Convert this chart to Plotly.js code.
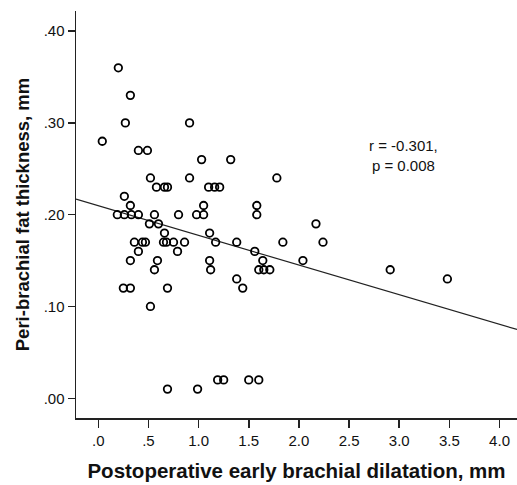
<!DOCTYPE html>
<html><head><meta charset="utf-8">
<script src="https://cdn.plot.ly/plotly-3.0.1.min.js"></script>
<style>html,body{margin:0;padding:0;background:#fff;}#chart{width:517px;height:485px;}</style>
</head><body><div id="chart"></div>
<script>
// Postoperative early brachial dilatation (mm)
const dilatation = [
  0.20, 0.32, 0.27, 0.04, 0.40, 0.49, 0.91, 1.03, 1.32,
  0.52, 0.91, 1.78,
  0.58, 0.66, 0.69, 1.10, 1.16, 1.21,
  0.26, 0.32, 1.05, 1.58,
  0.19, 0.26, 0.33, 0.40, 0.56, 0.80, 0.98, 1.05, 1.58,
  0.51, 0.60, 2.17,
  0.66, 1.11,
  0.36, 0.44, 0.47, 0.65, 0.68, 0.75, 0.86, 1.17, 1.38, 1.84, 2.24,
  0.40, 0.79, 1.56,
  0.32, 0.59, 1.11, 1.64, 2.04,
  0.56, 1.12, 1.60, 1.65, 1.71, 2.91,
  1.38, 3.48,
  0.25, 0.32, 0.69, 1.44,
  0.52,
  1.19, 1.25, 1.50, 1.60,
  0.69, 0.99
];
// Peri-brachial fat thickness (mm)
const thickness = [
  0.36, 0.33, 0.30, 0.28, 0.27, 0.27, 0.30, 0.26, 0.26,
  0.24, 0.24, 0.24,
  0.23, 0.23, 0.23, 0.23, 0.23, 0.23,
  0.22, 0.21, 0.21, 0.21,
  0.20, 0.20, 0.20, 0.20, 0.20, 0.20, 0.20, 0.20, 0.20,
  0.19, 0.19, 0.19,
  0.18, 0.18,
  0.17, 0.17, 0.17, 0.17, 0.17, 0.17, 0.17, 0.17, 0.17, 0.17, 0.17,
  0.16, 0.16, 0.16,
  0.15, 0.15, 0.15, 0.15, 0.15,
  0.14, 0.14, 0.14, 0.14, 0.14, 0.14,
  0.13, 0.13,
  0.12, 0.12, 0.12, 0.12,
  0.10,
  0.02, 0.02, 0.02, 0.02,
  0.01, 0.01
];
const xTickVals = [0, 0.5, 1.0, 1.5, 2.0, 2.5, 3.0, 3.5, 4.0];
const xTickText = ['.0', '.5', '1.0', '1.5', '2.0', '2.5', '3.0', '3.5', '4.0'];
const yTickVals = [0, 0.1, 0.2, 0.3, 0.4];
const yTickText = ['.00', '.10', '.20', '.30', '.40'];
const statsText = ['r = -0.301,', 'p = 0.008'];

// least-squares fit line from the data
const n = dilatation.length;
const mx = dilatation.reduce((a, b) => a + b, 0) / n;
const my = thickness.reduce((a, b) => a + b, 0) / n;
let sxy = 0, sxx = 0;
for (let i = 0; i < n; i++) { sxy += (dilatation[i] - mx) * (thickness[i] - my); sxx += (dilatation[i] - mx) ** 2; }
const slope = sxy / sxx, intercept = my - slope * mx;
const xRange = [-0.222, 4.174];
const fitX = xRange.slice();
const fitY = fitX.map(v => intercept + slope * v);

const font = 'Arial, "Liberation Sans", sans-serif';
const traces = [
  { x: fitX, y: fitY, mode: 'lines', line: { color: '#222', width: 1.2 }, hoverinfo: 'skip', cliponaxis: true },
  { x: dilatation, y: thickness, mode: 'markers', type: 'scatter',
    marker: { symbol: 'circle-open', size: 7.5, color: '#000', line: { width: 1.8, color: '#000' } } }
];
const layout = {
  width: 517, height: 485,
  margin: { l: 76, r: 0, t: 11, b: 67 },
  paper_bgcolor: '#fff', plot_bgcolor: '#fff',
  showlegend: false,
  font: { family: font, color: '#222' },
  xaxis: {
    range: xRange, tickvals: xTickVals, ticktext: xTickText,
    showgrid: false, zeroline: false, showline: true, linecolor: '#222', linewidth: 1.5,
    ticks: 'outside', ticklen: 8, tickwidth: 1.5, tickcolor: '#222',
    tickfont: { size: 15, family: font, color: '#111' },
    title: { text: '<b>Postoperative early brachial dilatation, mm</b>', font: { size: 20.5, family: font, color: '#111' }, standoff: 16 }
  },
  yaxis: {
    range: [-0.0215, 0.4219], tickvals: yTickVals, ticktext: yTickText,
    showgrid: false, zeroline: false, showline: true, linecolor: '#222', linewidth: 1.5,
    ticks: 'outside', ticklen: 7, tickwidth: 1.5, tickcolor: '#222',
    tickfont: { size: 15, family: font, color: '#111' },
    title: { text: '<b>Peri-brachial fat thickness, mm</b>', font: { size: 18.5, family: font, color: '#111' }, standoff: 9 }
  },
  annotations: [{
    x: 3.04, y: 0.264, xref: 'x', yref: 'y', showarrow: false,
    text: statsText.join('<br>'), align: 'center',
    font: { size: 15, family: font, color: '#111' }
  }]
};
Plotly.newPlot('chart', traces, layout, { staticPlot: true, displayModeBar: false });
</script></body></html>
